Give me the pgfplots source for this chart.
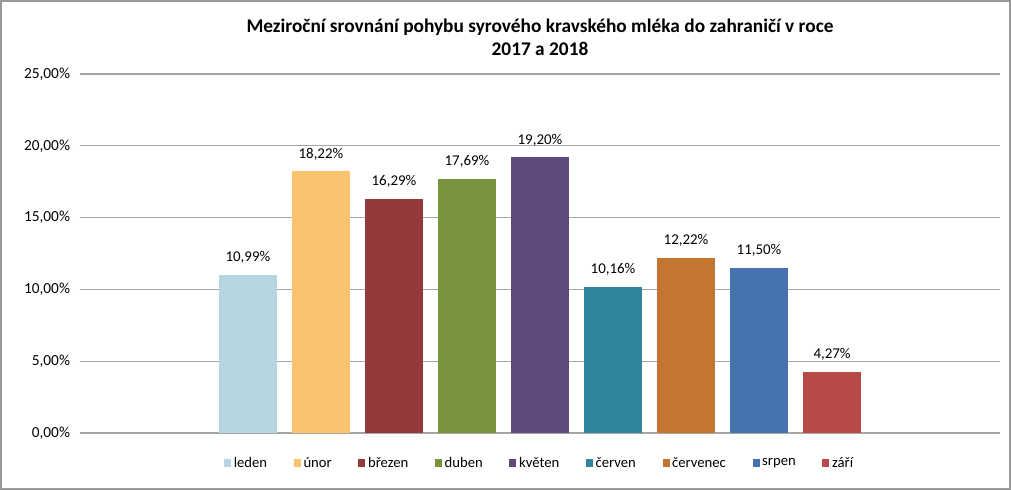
\documentclass[border=0pt]{standalone}
\usepackage{fontspec}
\setmainfont{Carlito}
\usepackage{pgfplots}
\pgfplotsset{compat=1.18}

\definecolor{cLed}{HTML}{B7D5E0}
\definecolor{cUno}{HTML}{FAC46E}
\definecolor{cBre}{HTML}{953A3C}
\definecolor{cDub}{HTML}{77933C}
\definecolor{cKve}{HTML}{604A7B}
\definecolor{cCer}{HTML}{31859C}
\definecolor{cCec}{HTML}{C47532}
\definecolor{cSrp}{HTML}{4672B0}
\definecolor{cZar}{HTML}{B94A48}
\definecolor{cGrid}{HTML}{A6A6A6}

\begin{document}
\begin{tikzpicture}
% frame of the chart area (1011 x 490 px, 1 px = 0.75pt)
\draw[color=gray!80, line width=1.5pt] (0.75pt,0.75pt) rectangle (757.5pt,366.75pt);
\begin{axis}[
  at={(60pt,42.75pt)}, anchor=south west,
  scale only axis, width=690pt, height=269.25pt,
  ybar, bar width=43.5pt, bar shift=0pt,
  xmin=-2.3, xmax=10.3,
  ymin=0, ymax=25,
  ytick={0,5,...,25},
  xtick=\empty,
  axis x line*=bottom, axis y line*=left,
  x axis line style={draw=cGrid, line width=0.8pt},
  y axis line style={draw=none},
  ymajorgrids, grid style={cGrid, line width=0.8pt},
  major tick length=0pt,
  /pgf/number format/assume math mode=true,
  yticklabel={\pgfmathprintnumber[fixed,fixed zerofill,precision=2,use comma]{\tick}\%},
  yticklabel style={font=\fontsize{11.5}{13}\selectfont, xshift=-4pt},
  nodes near coords={\pgfmathprintnumber[fixed,fixed zerofill,precision=2,use comma]{\pgfplotspointmeta}\%},
  every node near coord/.append style={font=\fontsize{11.2}{13}\selectfont, yshift=5pt},
  area legend,
  legend columns=9,
  legend style={draw=none, at={(0.5,-0.084)}, anchor=center,
    font=\fontsize{11}{13}\selectfont,
    /tikz/every even column/.append style={column sep=18pt}},
  legend image code/.code={\fill[#1] (0pt,-3pt) rectangle (5.25pt,3pt);},
]
  \addplot[fill=cLed, draw=none] coordinates {(0,10.99)};
  \addplot[fill=cUno, draw=none] coordinates {(1,18.22)};
  \addplot[fill=cBre, draw=none] coordinates {(2,16.29)};
  \addplot[fill=cDub, draw=none] coordinates {(3,17.69)};
  \addplot[fill=cKve, draw=none] coordinates {(4,19.20)};
  \addplot[fill=cCer, draw=none] coordinates {(5,10.16)};
  \addplot[fill=cCec, draw=none] coordinates {(6,12.22)};
  \addplot[fill=cSrp, draw=none] coordinates {(7,11.50)};
  \addplot[fill=cZar, draw=none] coordinates {(8,4.27)};
  \legend{leden,únor,březen,duben,květen,červen,červenec,srpen,září}
\end{axis}
\node[align=center, font=\bfseries\fontsize{14.5}{17}\selectfont] at (405pt,339.75pt)
  {Meziroční srovnání pohybu syrového kravského mléka do zahraničí v roce\\2017 a 2018};
\end{tikzpicture}
\end{document}
